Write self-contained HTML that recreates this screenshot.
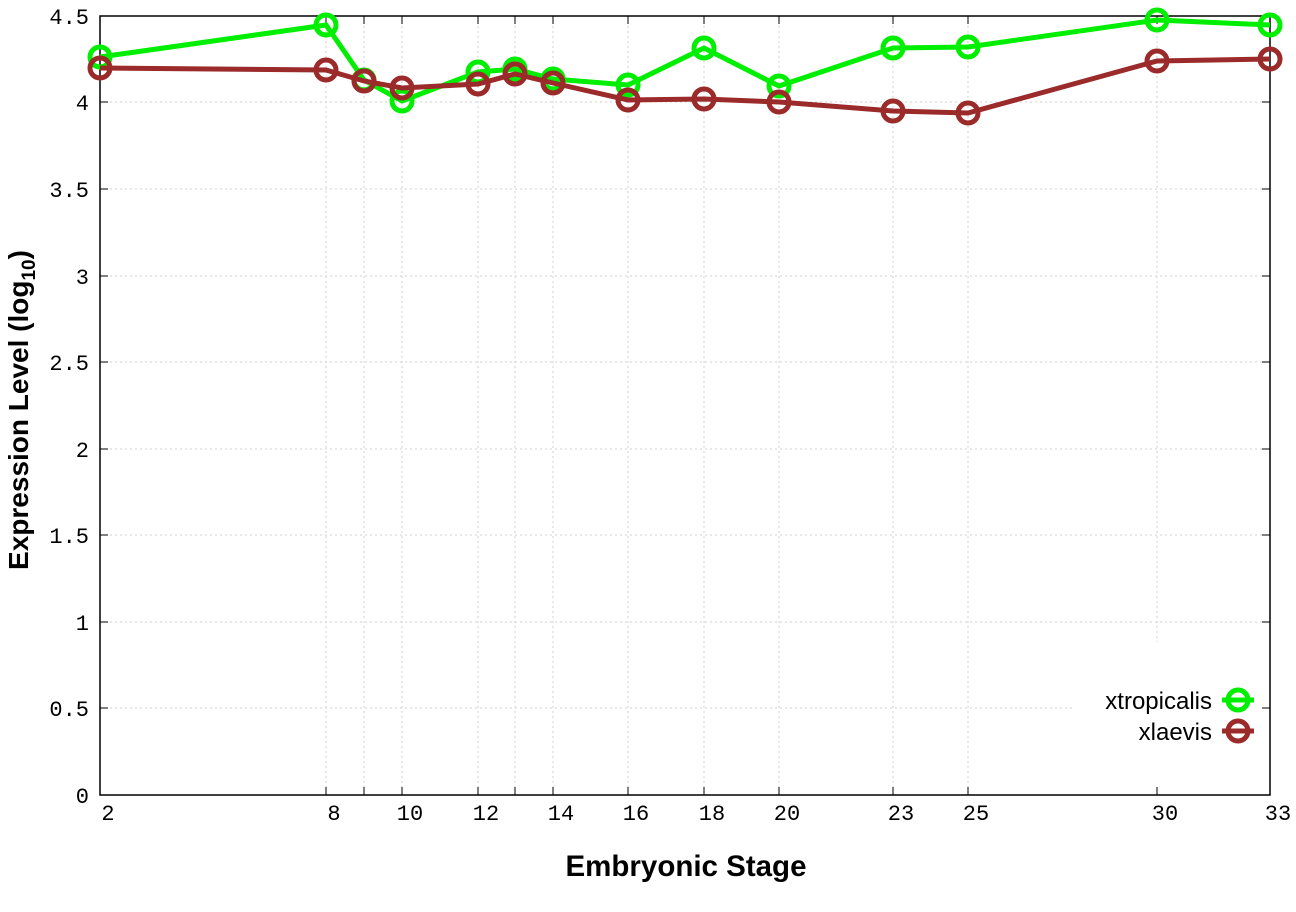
<!DOCTYPE html>
<html><head><meta charset="utf-8"><style>body{margin:0;background:#fff}</style></head><body>
<svg width="1296" height="907" xmlns="http://www.w3.org/2000/svg">
<rect width="1296" height="907" fill="#fff"/>
<g stroke="#d0d0d0" stroke-width="1" stroke-dasharray="2,3">
<line x1="100" x2="1270" y1="708" y2="708"/><line x1="100" x2="1270" y1="622" y2="622"/><line x1="100" x2="1270" y1="535" y2="535"/><line x1="100" x2="1270" y1="449" y2="449"/><line x1="100" x2="1270" y1="362" y2="362"/><line x1="100" x2="1270" y1="276" y2="276"/><line x1="100" x2="1270" y1="189" y2="189"/><line x1="100" x2="1270" y1="102" y2="102"/>
<line y1="16" y2="795" x1="326" x2="326"/><line y1="16" y2="795" x1="364" x2="364"/><line y1="16" y2="795" x1="402" x2="402"/><line y1="16" y2="795" x1="478" x2="478"/><line y1="16" y2="795" x1="515" x2="515"/><line y1="16" y2="795" x1="553" x2="553"/><line y1="16" y2="795" x1="628" x2="628"/><line y1="16" y2="795" x1="704" x2="704"/><line y1="16" y2="795" x1="779" x2="779"/><line y1="16" y2="795" x1="893" x2="893"/><line y1="16" y2="795" x1="968" x2="968"/><line y1="16" y2="795" x1="1157" x2="1157"/>
</g>
<rect x="1072" y="642" width="197" height="152" fill="#fff"/>
<rect x="100" y="16" width="1170" height="779" fill="none" stroke="#000" stroke-width="1.5"/>
<g stroke="#000" stroke-width="1">
<path d="M100 708h8M100 622h8M100 535h8M100 449h8M100 362h8M100 276h8M100 189h8M100 102h8M1270 708h-8M1270 622h-8M1270 535h-8M1270 449h-8M1270 362h-8M1270 276h-8M1270 189h-8M1270 102h-8"/>
<path d="M326 795v-8M364 795v-8M402 795v-8M478 795v-8M515 795v-8M553 795v-8M628 795v-8M704 795v-8M779 795v-8M893 795v-8M968 795v-8M1157 795v-8M326 16v8M364 16v8M402 16v8M478 16v8M515 16v8M553 16v8M628 16v8M704 16v8M779 16v8M893 16v8M968 16v8M1157 16v8"/>
</g>
<g font-family="Liberation Mono, monospace" font-size="22" fill="#000" text-anchor="end">
<text x="89" y="803">0</text><text x="89" y="716">0.5</text><text x="89" y="630">1</text><text x="89" y="543">1.5</text><text x="89" y="457">2</text><text x="89" y="370">2.5</text><text x="89" y="284">3</text><text x="89" y="197">3.5</text><text x="89" y="110">4</text><text x="89" y="24">4.5</text>
</g>
<g font-family="Liberation Mono, monospace" font-size="22" fill="#000" text-anchor="middle">
<text x="108" y="820">2</text><text x="334" y="820">8</text><text x="410" y="820">10</text><text x="486" y="820">12</text><text x="561" y="820">14</text><text x="636" y="820">16</text><text x="712" y="820">18</text><text x="787" y="820">20</text><text x="901" y="820">23</text><text x="976" y="820">25</text><text x="1165" y="820">30</text><text x="1278" y="820">33</text>
</g>
<text x="686" y="876" font-family="Liberation Sans, sans-serif" font-weight="bold" font-size="29.5" text-anchor="middle">Embryonic Stage</text>
<text transform="translate(28,410) rotate(-90)" font-family="Liberation Sans, sans-serif" font-weight="bold" font-size="28" text-anchor="middle">Expression Level (log<tspan font-size="19" dy="7">10</tspan><tspan dy="-7">)</tspan></text>
<g fill="none" stroke="#00ee00" stroke-width="5">
<polyline points="100,57 326,25 364,80 402,101 478,72 515,69 553,79 628,85 704,48 779,86 893,48 968,47 1157,20 1270,25"/>
<g><circle cx="100" cy="57" r="10"/><circle cx="326" cy="25" r="10"/><circle cx="364" cy="80" r="10"/><circle cx="402" cy="101" r="10"/><circle cx="478" cy="72" r="10"/><circle cx="515" cy="69" r="10"/><circle cx="553" cy="79" r="10"/><circle cx="628" cy="85" r="10"/><circle cx="704" cy="48" r="10"/><circle cx="779" cy="86" r="10"/><circle cx="893" cy="48" r="10"/><circle cx="968" cy="47" r="10"/><circle cx="1157" cy="20" r="10"/><circle cx="1270" cy="25" r="10"/></g>
<line x1="1222" x2="1254" y1="700" y2="700"/><circle cx="1238" cy="700" r="10"/>
</g>
<g fill="none" stroke="#9b2a2a" stroke-width="5">
<polyline points="100,68 326,70 364,81 402,88 478,84 515,74 553,83 628,100 704,99 779,102 893,111 968,113 1157,61 1270,59"/>
<g><circle cx="100" cy="68" r="10"/><circle cx="326" cy="70" r="10"/><circle cx="364" cy="81" r="10"/><circle cx="402" cy="88" r="10"/><circle cx="478" cy="84" r="10"/><circle cx="515" cy="74" r="10"/><circle cx="553" cy="83" r="10"/><circle cx="628" cy="100" r="10"/><circle cx="704" cy="99" r="10"/><circle cx="779" cy="102" r="10"/><circle cx="893" cy="111" r="10"/><circle cx="968" cy="113" r="10"/><circle cx="1157" cy="61" r="10"/><circle cx="1270" cy="59" r="10"/></g>
<line x1="1222" x2="1254" y1="731" y2="731"/><circle cx="1238" cy="731" r="10"/>
</g>
<g font-family="Liberation Sans, sans-serif" font-size="24" fill="#000" text-anchor="end">
<text x="1212" y="709">xtropicalis</text><text x="1212" y="740">xlaevis</text>
</g>
</svg>
</body></html>
